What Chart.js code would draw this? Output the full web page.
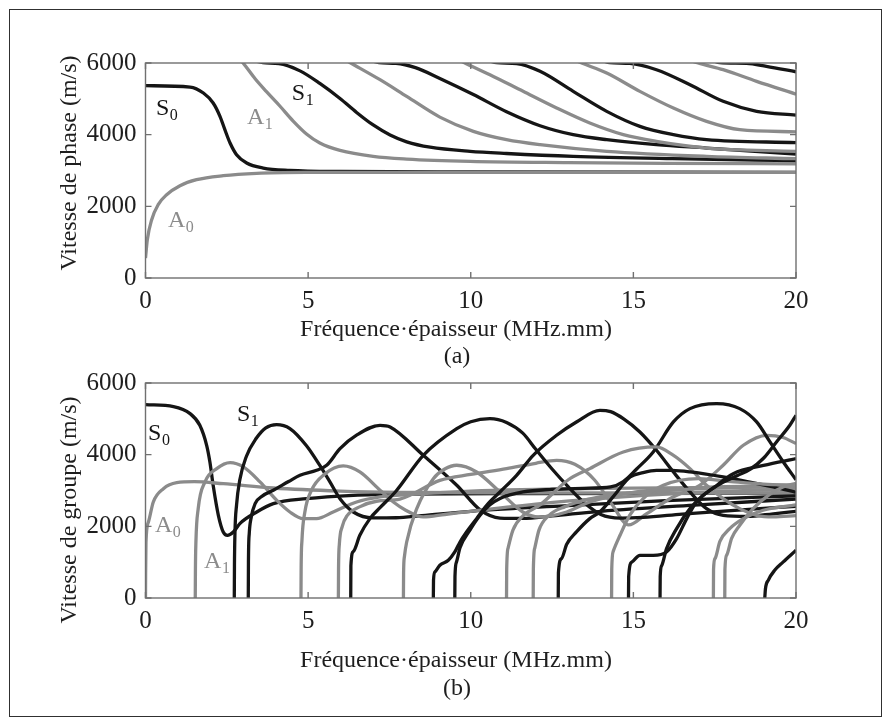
<!DOCTYPE html>
<html>
<head>
<meta charset="utf-8">
<script src="https://cdn.jsdelivr.net/npm/chart.js@4.4.1/dist/chart.umd.min.js"></script>
<style>
  html, body { margin: 0; padding: 0; background: #ffffff; }
  body { width: 889px; height: 725px; position: relative; overflow: hidden; }
  #frame { position: absolute; left: 9px; top: 9px; width: 873px; height: 708px; border: 1px solid #303030; box-sizing: border-box; }
  canvas { position: absolute; left: 0; top: 0; }
</style>
</head>
<body>
<div id="frame"></div>
<canvas id="phase" width="889" height="725"></canvas>
<canvas id="group" width="889" height="725"></canvas>
<script>
// Axis ticks
const fdTicks = [0, 5, 10, 15, 20];
const velTicks = [0, 2000, 4000, 6000];

// ---- Phase velocity (m/s) vs frequency-thickness (MHz.mm) ----
const phaseA0 = [[0,557],[0.056,1069],[0.19,1627],[0.39,2046],[0.65,2325],[1.06,2576],[1.57,2743],[2.39,2855],[3.42,2920],[4.95,2945],[8,2950],[14,2950],[20,2948]];
const phaseS0 = [[0,5367],[1.37,5329],[1.78,5162],[2.08,4883],[2.29,4511],[2.44,4139],[2.6,3767],[2.8,3441],[3.11,3208],[3.62,3069],[4.44,3004],[6,2972],[10,2958],[20,2950]];
const phaseA1 = [[2.85,6150],[3.0,6000],[3.37,5560],[3.72,5200],[4.13,4800],[4.54,4380],[4.95,4020],[5.36,3767],[5.98,3560],[7.0,3394],[8.03,3320],[9.98,3255],[13,3220],[16,3200],[20,3185]];
const phaseS1 = [[3.3,6080],[3.61,6010],[4.1,5985],[4.75,5780],[5.36,5430],[5.98,5010],[6.49,4620],[7.0,4270],[7.52,3990],[8.03,3800],[8.75,3650],[9.98,3534],[11.1,3475],[13.15,3395],[16.2,3330],[20,3274]];
const phaseA2 = [[6.0,6160],[6.31,6000],[7.21,5534],[8.03,5068],[9.05,4490],[10.08,4093],[11.1,3860],[12.13,3720],[14.18,3534],[17.25,3395],[20,3330]];
const phaseS2 = [[6.9,6080],[7.18,6010],[7.7,5990],[8.3,5870],[9.05,5570],[10.08,5120],[11.1,4640],[12.13,4250],[13.15,4000],[14.18,3860],[15.71,3720],[17.25,3627],[20,3460]];
const phaseA3 = [[9.5,6150],[9.82,6000],[10.59,5674],[11.61,5209],[12.64,4744],[13.66,4325],[14.69,4000],[15.71,3813],[17.25,3627],[20,3534]];
const phaseS3 = [[10.5,6080],[10.8,6010],[11.41,5985],[12.13,5767],[13.15,5209],[14.18,4651],[15.2,4232],[16.23,4000],[17.25,3860],[20,3780]];
const phaseA4 = [[13.1,6120],[13.41,6000],[14.18,5720],[15.2,5209],[16.23,4744],[17.25,4372],[18.27,4139],[20,4080]];
const phaseS4 = [[14.0,6080],[14.28,6010],[14.89,5990],[15.71,5813],[16.74,5395],[17.76,4930],[18.79,4651],[20,4545]];
const phaseA5 = [[16.8,6060],[16.99,6000],[17.76,5813],[18.79,5488],[20,5130]];
const phaseS5 = [[17.4,6080],[17.66,6010],[18.48,5990],[19.09,5906],[20,5755]];

// ---- Group velocity (m/s) vs frequency-thickness (MHz.mm) ----
const groupA0 = [[0,0],[0.004,700],[0.015,1560],[0.09,2120],[0.24,2680],[0.55,3050],[0.96,3220],[1.5,3245],[2.39,3190],[3.93,3070],[5.98,2985],[7.82,2950],[12,2935],[20,2925]];
const groupS0 = [[0,5396],[0.86,5340],[1.37,5145],[1.67,4820],[1.88,4262],[1.98,3796],[2.08,3145],[2.24,2308],[2.39,1843],[2.52,1750],[2.7,1843],[2.9,2076],[3.42,2401],[3.93,2634],[4.95,2773],[6.39,2866],[8,2900],[12,2915],[20,2925]];
const groupA1 = [[1.53,0],[1.535,800],[1.55,1560],[1.62,2490],[1.83,3240],[2.19,3610],[2.6,3780],[3.01,3660],[3.52,3240],[4.03,2730],[4.44,2400],[4.85,2215],[5.26,2215],[5.77,2400],[6.49,2680],[7.21,2820],[7.82,2870],[10,2980],[14,3060],[20,3100]];
const groupS1 = [[2.73,0],[2.735,900],[2.75,1800],[2.8,2600],[2.9,3300],[3.1,3950],[3.4,4450],[3.7,4750],[4.03,4840],[4.44,4730],[4.95,4250],[5.36,3700],[5.67,3240],[5.98,2770],[6.39,2400],[7.0,2234],[7.7,2240],[8.5,2300],[10,2420],[13,2580],[16,2720],[20,2850]];
const groupS2 = [[3.16,0],[3.165,1000],[3.19,1800],[3.25,2250],[3.37,2634],[3.6,2850],[3.93,3006],[4.4,3250],[4.75,3424],[5.26,3564],[5.57,3703],[5.98,4168],[6.5,4550],[7.21,4820],[7.52,4773],[8.54,3982],[9.57,3145],[10.3,2450],[10.9,2230],[11.6,2220],[12.5,2290],[14,2420],[17,2600],[20,2760]];
const groupA2 = [[4.78,0],[4.785,800],[4.81,1600],[4.9,2400],[5.1,3000],[5.5,3450],[6.08,3685],[6.59,3517],[7.21,3006],[7.62,2680],[8.0,2450],[8.54,2262],[9.2,2330],[10,2420],[12,2620],[14,2780],[17,2950],[20,3050]];
const groupA3 = [[5.93,0],[5.935,800],[5.96,1500],[6.05,2000],[6.2,2300],[6.6,2550],[7.1,2700],[7.82,2760],[9.05,3284],[10,3450],[11.1,3610],[12,3760],[12.64,3842],[13.2,3730],[13.8,3300],[14.35,2600],[14.85,2040],[15.41,2354],[16.22,2819],[17.04,3145],[17.76,3703],[18.38,4262],[19.1,4541],[19.6,4480],[20,4308]];
const groupS3 = [[6.31,0],[6.315,900],[6.39,1300],[6.59,1750],[6.9,2215],[7.21,2520],[7.7,2980],[8.54,3982],[9.57,4727],[10.0,4920],[10.59,5006],[11.1,4900],[11.6,4600],[12.0,4150],[12.5,3600],[13.0,3100],[13.5,2650],[14.0,2330],[14.6,2230],[15.3,2250],[16.5,2340],[18,2440],[20,2560]];
const groupA4 = [[7.93,0],[7.935,700],[7.96,1150],[8.03,1564],[8.34,2494],[8.85,3331],[9.2,3600],[9.57,3704],[10.18,3517],[10.9,2959],[11.6,2401],[12.1,2262],[12.95,2401],[13.66,2680],[15,2950],[17,3080],[20,3150]];
const groupS4 = [[8.85,0],[8.855,500],[8.9,727],[9.05,913],[9.31,1052],[9.51,1285],[9.67,1564],[9.87,1843],[10.18,2215],[10.49,2587],[10.9,2959],[11.41,3424],[11.92,3982],[12.64,4541],[13.25,4913],[13.97,5238],[14.3,5200],[14.69,5006],[15.2,4634],[15.71,4122],[16.23,3517],[16.74,2959],[17.25,2494],[17.76,2308],[18.5,2280],[19.3,2350],[20,2420]];
const groupS5 = [[9.51,0],[9.515,600],[9.56,1000],[9.67,1400],[9.98,1900],[10.28,2300],[10.59,2600],[10.9,2780],[11.61,2960],[12.5,3030],[13.5,3060],[14.3,3100],[14.69,3250],[15.1,3600],[15.61,4075],[16.23,4913],[16.74,5285],[17.56,5424],[18.27,5285],[18.79,4913],[19.2,4355],[19.61,3797],[20,3300]];
const groupA5 = [[11.1,0],[11.105,800],[11.15,1400],[11.3,1900],[11.61,2300],[12.13,2600],[13,3300],[13.66,3610],[14.69,4075],[15.71,4215],[16.2,4000],[16.74,3610],[17.25,3145],[17.76,2773],[18.27,2494],[18.79,2308],[19.3,2262],[20,2300]];
const groupA6 = [[11.92,0],[11.925,800],[11.97,1400],[12.1,1900],[12.4,2300],[12.9,2550],[13.6,2750],[14.5,2900],[16,3000],[18,3080],[20,3120]];
const groupS6 = [[12.69,0],[12.695,700],[12.79,1100],[12.95,1500],[13.25,1843],[13.66,2215],[13.97,2401],[14.4,2850],[14.9,3377],[15.3,3500],[15.71,3563],[16.2,3560],[16.74,3517],[17.76,3377],[18.5,3250],[19.3,3100],[20,2950]];
const groupA7 = [[14.33,0],[14.335,800],[14.38,1300],[14.59,1750],[14.89,2310],[15.3,2773],[15.92,3145],[17,3330],[18,3250],[19,3180],[20,3150]];
const groupS7 = [[14.85,0],[14.855,600],[14.95,1000],[15.2,1192],[15.61,1192],[16.02,1285],[16.33,1657],[16.64,2215],[16.94,2680],[17.5,3100],[18.07,3470],[19,3700],[20,3889]];
const groupS8 = [[15.82,0],[15.825,600],[15.87,900],[16.02,1378],[16.33,1936],[16.74,2494],[17.15,2866],[17.6,3150],[18.2,3420],[18.6,3600],[19.0,3900],[19.4,4355],[19.81,4820],[20,5100]];
const groupA8 = [[17.46,0],[17.465,800],[17.51,1100],[17.66,1578],[17.97,1943],[18.38,2215],[18.99,2450],[20,2600]];
const groupA9 = [[17.81,0],[17.815,800],[17.87,1200],[18.02,1664],[18.27,2029],[18.68,2494],[19.2,2900],[19.6,3100],[20,3200]];
const groupS9 = [[19.04,0],[19.06,250],[19.15,500],[19.35,780],[19.6,1000],[20,1330]];

const BLACK = '#151515';
const GREY = '#8b8b8b';
const FONT = '"Liberation Serif", "Times New Roman", serif';

// symmetric modes in black, antisymmetric in grey
const phaseModes = [
  [phaseS0, BLACK], [phaseA0, GREY], [phaseA1, GREY], [phaseS1, BLACK],
  [phaseA2, GREY], [phaseS2, BLACK], [phaseA3, GREY], [phaseS3, BLACK],
  [phaseA4, GREY], [phaseS4, BLACK], [phaseA5, GREY], [phaseS5, BLACK]
];
const groupModes = [
  [groupS0, BLACK], [groupA0, GREY], [groupA1, GREY], [groupS1, BLACK],
  [groupS2, BLACK], [groupA2, GREY], [groupA3, GREY], [groupS3, BLACK],
  [groupA4, GREY], [groupS4, BLACK], [groupS5, BLACK], [groupA5, GREY],
  [groupA6, GREY], [groupS6, BLACK], [groupA7, GREY], [groupS7, BLACK],
  [groupS8, BLACK], [groupA8, GREY], [groupA9, GREY], [groupS9, BLACK]
];

function toDatasets(modes) {
  // Chart.js paints the first dataset on top, so reverse the list
  return modes.slice().reverse().map(([pts, color]) => ({
    data: pts.map(([fd, v]) => ({ x: fd, y: v })),
    borderColor: color,
    borderWidth: 3.3,
    pointRadius: 0,
    tension: 0,
    cubicInterpolationMode: 'monotone',
    capBezierPoints: false,
    fill: false,
    borderJoinStyle: 'round'
  }));
}

// Axes box, inward ticks, titles and mode labels
const decor = {
  id: 'decor',
  afterDatasetsDraw(chart, args, o) {
    const { ctx, chartArea: a, scales: { x, y } } = chart;
    ctx.save();
    ctx.strokeStyle = '#707070';
    ctx.lineWidth = 1.4;
    ctx.strokeRect(a.left, a.top, a.right - a.left, a.bottom - a.top);
    ctx.beginPath();
    fdTicks.forEach(t => {
      const px = x.getPixelForValue(t);
      ctx.moveTo(px, a.bottom); ctx.lineTo(px, a.bottom - 6);
      ctx.moveTo(px, a.top); ctx.lineTo(px, a.top + 6);
    });
    velTicks.forEach(t => {
      const py = y.getPixelForValue(t);
      ctx.moveTo(a.left, py); ctx.lineTo(a.left + 6, py);
      ctx.moveTo(a.right, py); ctx.lineTo(a.right - 6, py);
    });
    ctx.stroke();

    ctx.fillStyle = '#1e1e1e';
    ctx.font = '24px ' + FONT;
    ctx.textAlign = 'center';
    ctx.textBaseline = 'alphabetic';
    ctx.fillText('Fréquence·épaisseur (MHz.mm)', o.xTitle[0], o.xTitle[1]);
    ctx.fillText(o.panel, o.panelPos[0], o.panelPos[1]);
    ctx.save();
    ctx.translate(o.yTitle[0], o.yTitle[1]);
    ctx.rotate(-Math.PI / 2);
    ctx.fillText(o.yText, 0, 0);
    ctx.restore();

    o.labels.forEach(l => {
      const px = x.getPixelForValue(l.fd);
      const py = y.getPixelForValue(l.v);
      ctx.fillStyle = l.color;
      ctx.textAlign = 'left';
      ctx.font = '24px ' + FONT;
      ctx.fillText(l.main, px, py);
      const w = ctx.measureText(l.main).width;
      ctx.font = '16px ' + FONT;
      ctx.fillText(l.sub, px + w + 0.5, py + 5);
    });
    ctx.restore();
  }
};

function makeChart(id, modes, box, deco) {
  const canvas = document.getElementById(id);
  const H = canvas.height;
  return new Chart(canvas, {
    type: 'line',
    data: { datasets: toDatasets(modes) },
    options: {
      responsive: false,
      animation: false,
      events: [],
      layout: { autoPadding: false, padding: { left: 0, right: 889 - box.right, top: box.top, bottom: 0 } },
      plugins: { legend: { display: false }, tooltip: { enabled: false }, decor: deco },
      scales: {
        x: {
          type: 'linear', min: 0, max: 20,
          afterBuildTicks: s => { s.ticks = fdTicks.map(v => ({ value: v })); },
          afterFit: s => { s.height = H - box.bottom; },
          grid: { display: false, drawTicks: false },
          border: { display: false },
          ticks: { padding: 8, color: '#1e1e1e', font: { family: FONT, size: 25 }, maxRotation: 0, callback: v => String(v) }
        },
        y: {
          type: 'linear', min: 0, max: 6000,
          afterBuildTicks: s => { s.ticks = velTicks.map(v => ({ value: v })); },
          afterFit: s => { s.width = box.left; },
          grid: { display: false, drawTicks: false },
          border: { display: false },
          ticks: { padding: 9, color: '#1e1e1e', font: { family: FONT, size: 25 }, callback: v => String(v) }
        }
      }
    },
    plugins: [decor]
  });
}

makeChart('phase', phaseModes, { left: 145.5, right: 796, top: 63, bottom: 278 }, {
  xTitle: [456, 336], panel: '(a)', panelPos: [457, 363], yTitle: [76, 163],
  yText: 'Vitesse de phase (m/s)',
  labels: [
    { main: 'S', sub: '0', fd: 0.32, v: 4557, color: BLACK },
    { main: 'A', sub: '0', fd: 0.69, v: 1430, color: GREY },
    { main: 'A', sub: '1', fd: 3.12, v: 4290, color: GREY },
    { main: 'S', sub: '1', fd: 4.5, v: 4970, color: BLACK }
  ]
});

makeChart('group', groupModes, { left: 145.5, right: 796, top: 383, bottom: 598 }, {
  xTitle: [456, 667], panel: '(b)', panelPos: [457, 695], yTitle: [76, 510],
  yText: 'Vitesse de groupe (m/s)',
  labels: [
    { main: 'S', sub: '0', fd: 0.08, v: 4400, color: BLACK },
    { main: 'S', sub: '1', fd: 2.81, v: 4940, color: BLACK },
    { main: 'A', sub: '0', fd: 0.29, v: 1830, color: GREY },
    { main: 'A', sub: '1', fd: 1.8, v: 830, color: GREY }
  ]
});
</script>
</body>
</html>
